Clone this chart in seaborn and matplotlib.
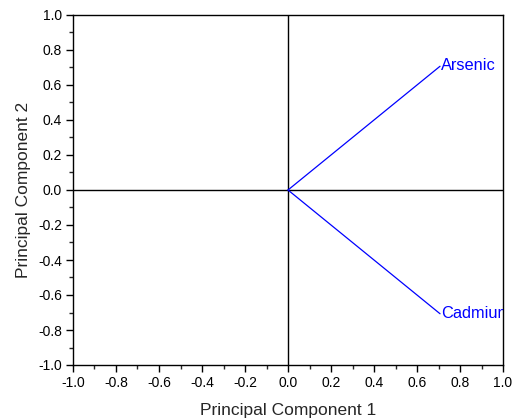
import matplotlib
matplotlib.use("Agg")
import matplotlib.pyplot as plt
import seaborn as sns
import pandas as pd
from matplotlib.ticker import MultipleLocator, FormatStrFormatter

variables = ["Arsenic", "Cadmium"]
pc1 = [0.7071, 0.7071]
pc2 = [0.7071, -0.7071]

sns.set_style("ticks")
plt.rcParams['font.family'] = ['Liberation Sans', 'DejaVu Sans']
plt.rcParams['axes.unicode_minus'] = False

fig = plt.figure(figsize=(5.18, 4.19), dpi=100)
ax = fig.add_axes([73/518, 1 - 365/419, (503-73)/518, (365-15)/419])

rows = []
for v, x, y in zip(variables, pc1, pc2):
    rows.append({"var": v, "x": 0.0, "y": 0.0})
    rows.append({"var": v, "x": x, "y": y})
df = pd.DataFrame(rows)

ax.axhline(0, color="black", lw=1, zorder=1)
ax.axvline(0, color="black", lw=1, zorder=1)
sns.lineplot(data=df, x="x", y="y", units="var", estimator=None, sort=False,
             color="#0000FF", lw=0.9, ax=ax, legend=False, zorder=2)
for v, x, y in zip(variables, pc1, pc2):
    t = ax.annotate(v, xy=(x, y), xytext=(0.5, -2.8), textcoords="offset points",
                    color="#0000FF", fontsize=11.8, ha="left", va="baseline")
    t.set_clip_on(True)
    t.set_clip_box(ax.bbox)

ax.set_xlim(-1, 1)
ax.set_ylim(-1, 1)
ax.xaxis.set_major_locator(MultipleLocator(0.2))
ax.yaxis.set_major_locator(MultipleLocator(0.2))
ax.xaxis.set_minor_locator(MultipleLocator(0.1))
ax.yaxis.set_minor_locator(MultipleLocator(0.1))
ax.xaxis.set_major_formatter(FormatStrFormatter("%.1f"))
ax.yaxis.set_major_formatter(FormatStrFormatter("%.1f"))
ax.tick_params(which="major", direction="out", length=5, width=1, labelsize=10, colors="black", pad=3)
ax.tick_params(which="minor", direction="out", length=3, width=1)
for s in ax.spines.values():
    s.set_linewidth(1)
    s.set_color("black")
ax.set_xlabel("Principal Component 1", fontsize=12.5, labelpad=9)
ax.set_ylabel("Principal Component 2", fontsize=12.5, labelpad=5)

fig.savefig("out.png", dpi=100)
